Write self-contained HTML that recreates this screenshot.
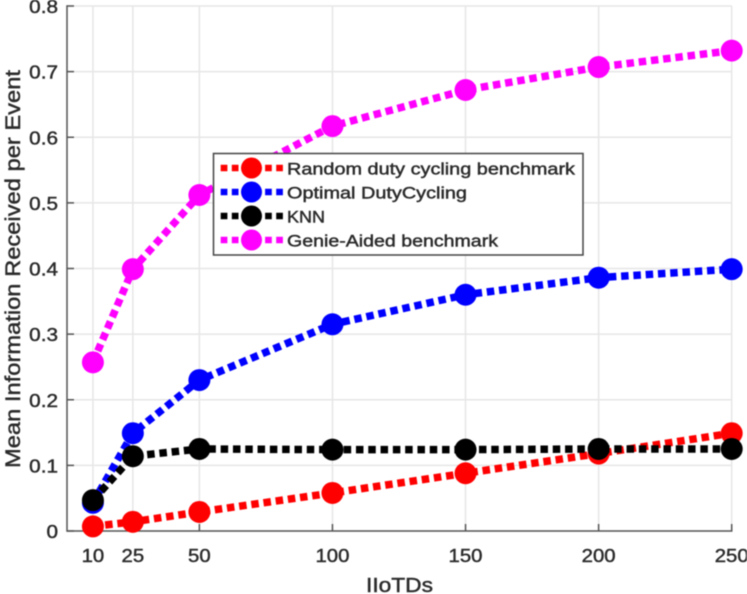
<!DOCTYPE html>
<html>
<head>
<meta charset="utf-8">
<style>
html,body{margin:0;padding:0;background:#fff;width:747px;height:594px;overflow:hidden}
svg{display:block;filter:blur(0.45px)}
text{font-family:"Liberation Sans",sans-serif;fill:#2b2b2b;stroke:#2b2b2b;stroke-width:.45}
</style>
</head>
<body>
<svg id="chart" xmlns="http://www.w3.org/2000/svg" width="747" height="594" viewBox="0 0 747 594"></svg>
<script>
const categories = [10, 25, 50, 100, 150, 200, 250];
const xTickLabels = [10, 25, 50, 100, 150, 200, 250];
const yTickValues = [0, 0.1, 0.2, 0.3, 0.4, 0.5, 0.6, 0.7, 0.8];
const yTickLabels = ['0', '0.1', '0.2', '0.3', '0.4', '0.5', '0.6', '0.7', '0.8'];
const randomValues = [0.007, 0.014, 0.029, 0.058, 0.088, 0.118, 0.149];
const optimalValues = [0.043, 0.149, 0.230, 0.315, 0.360, 0.386, 0.399];
const knnValues = [0.047, 0.114, 0.125, 0.124, 0.124, 0.125, 0.125];
const genieValues = [0.257, 0.399, 0.512, 0.617, 0.672, 0.707, 0.732];
const seriesNames = ['Random duty cycling benchmark', 'Optimal DutyCycling', 'KNN', 'Genie-Aided benchmark'];
const seriesColors = ['#ff0000', '#0000ff', '#000000', '#ff00ff'];
const seriesKeys = ['random', 'optimal', 'knn', 'genie'];
const seriesValues = [randomValues, optimalValues, knnValues, genieValues];

const NS = 'http://www.w3.org/2000/svg';
const svg = document.getElementById('chart');
const X0 = 66.3, X1 = 731.7, Y0 = 531, Y1 = 6;
function xScale(v) { return X0 + (v / 250) * (X1 - X0); }
function yScale(v) { return Y0 - (v / 0.8) * (Y0 - Y1); }
function mk(tag, attrs, parent) {
  const el = document.createElementNS(NS, tag);
  for (const k in attrs) el.setAttribute(k, attrs[k]);
  (parent || svg).appendChild(el);
  return el;
}
function stretch(el, factor) {
  el.setAttribute('textLength', el.getComputedTextLength() * factor);
  el.setAttribute('lengthAdjust', 'spacingAndGlyphs');
}

yTickValues.forEach(function (v, i) {
  if (i === 0) return;
  const g = mk('line', { x1: X0, x2: X1, y1: yScale(v), y2: yScale(v), stroke: '#e6e6e6', 'stroke-width': 1.5 });
  
  
});
categories.forEach(function (c) {
  const g = mk('line', { x1: xScale(c), x2: xScale(c), y1: Y0, y2: Y1, stroke: '#e6e6e6', 'stroke-width': 1.5 });
  
  
});

const yAxis = mk('line', { x1: 67, x2: 67, y1: Y0 + 0.75, y2: Y1 - 0.75, stroke: '#555', 'stroke-width': 1.5 });


const xAxis = mk('line', { x1: 67, x2: X1 + 0.75, y1: Y0, y2: Y0, stroke: '#555', 'stroke-width': 1.5 });



yTickValues.forEach(function (v, i) {
  const t = mk('line', { x1: 67, x2: 74, y1: yScale(v), y2: yScale(v), stroke: '#555', 'stroke-width': 1.5 });
  
  
  const l = mk('text', { x: 58, y: yScale(v) + 7, 'text-anchor': 'end', 'font-size': 18.5 });
  
  
  l.textContent = yTickLabels[i];
  stretch(l, 1.12);
});
categories.forEach(function (c, i) {
  const t = mk('line', { x1: xScale(c), x2: xScale(c), y1: Y0, y2: Y0 - 7, stroke: '#555', 'stroke-width': 1.5 });
  
  
  const l = mk('text', { x: xScale(c), y: 562, 'text-anchor': 'middle', 'font-size': 18.5 });
  
  
  l.textContent = xTickLabels[i];
  stretch(l, 1.1);
});

const xTitle = mk('text', { x: 399.5, y: 592, 'text-anchor': 'middle', 'font-size': 20, textLength: 67, lengthAdjust: 'spacingAndGlyphs' });


xTitle.textContent = 'IIoTDs';
const yTitle = mk('text', { x: 0, y: 0, 'text-anchor': 'middle', 'font-size': 21.5, transform: 'translate(20,269) rotate(-90)', textLength: 398, lengthAdjust: 'spacingAndGlyphs' });


yTitle.textContent = 'Mean Information Received per Event';

seriesValues.forEach(function (vals, s) {
  const g = mk('g', {});
  
  
  const pts = vals.map(function (v, i) { return xScale(categories[i]) + ',' + yScale(v); }).join(' ');
  const line = mk('polyline', { points: pts, fill: 'none', stroke: seriesColors[s], 'stroke-width': 7.5, 'stroke-dasharray': '7.5 4.8' }, g);
  
  
  vals.forEach(function (v, i) {
    const p = mk('circle', { cx: xScale(categories[i]), cy: yScale(v), r: 11, fill: seriesColors[s] }, g);
    
    
  });
});

const legend = mk('g', {});


const box = mk('rect', { x: 213.5, y: 153.5, width: 369.5, height: 101.5, fill: '#fff', stroke: '#444', 'stroke-width': 1.5 }, legend);


const legendY = [168, 192, 216, 240];
const legendW = [288, 180, 38, 211];
seriesNames.forEach(function (n, s) {
  const g = mk('g', {}, legend);
  
  
  const ln = mk('line', { x1: 220.7, x2: 283, y1: legendY[s], y2: legendY[s], stroke: seriesColors[s], 'stroke-width': 6.5, 'stroke-dasharray': '6.7 4.4' }, g);
  
  
  const c = mk('circle', { cx: 251.5, cy: legendY[s], r: 10.5, fill: seriesColors[s] }, g);
  
  
  const t = mk('text', { x: 287, y: legendY[s] + 6.5, 'font-size': 16.5, textLength: legendW[s], lengthAdjust: 'spacingAndGlyphs' }, g);
  
  
  t.textContent = n;
});
</script>
</body>
</html>
